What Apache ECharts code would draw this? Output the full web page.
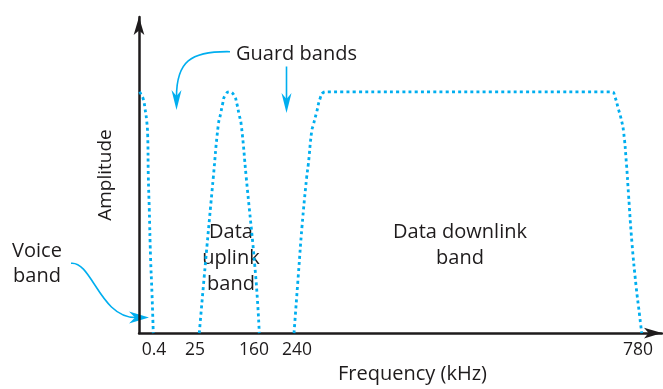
<!DOCTYPE html>
<html><head><meta charset="utf-8">
<script src="https://cdn.jsdelivr.net/npm/echarts@6/dist/echarts.min.js"></script>
<style>html,body{margin:0;padding:0;background:#fff}#chart{width:663px;height:389px}</style>
</head><body><div id="chart"></div>
<script>
// Frequency axis is schematic (not to scale): x values are positions 0–100 along the axis.
const tickPositions = [2.87, 10.71, 21.99, 30.21, 95.41];
const tickLabels = ['0.4', '25', '160', '240', '780'];

// Amplitude (0–1) of each band's spectrum outline
const voiceBand = [[0.1,1.0],[0.38,0.99],[0.82,0.97],[1.15,0.93],[1.47,0.88],[1.66,0.82],[1.78,0.65],[1.97,0.51],[2.2,0.32],[2.49,0.16],[2.73,0]];
const uplinkBand = [[11.53,0],[12.49,0.239],[14.21,0.646],[15.16,0.863],[15.62,0.91],[16.0,0.951],[16.44,0.985],[17.27,1.0],[18.2,0.985],[18.7,0.951],[19.1,0.91],[19.55,0.863],[20.5,0.646],[22.3,0.239],[23.0,0]];
const downlinkBand = [[29.64,0],[30.46,0.239],[31.17,0.442],[32.06,0.646],[32.37,0.699],[33.02,0.837],[33.33,0.863],[33.98,0.917],[34.61,0.971],[35.24,0.997],[35.95,1.0],[90.38,1.0],[91.01,0.978],[91.64,0.93],[92.16,0.89],[92.64,0.837],[93.21,0.699],[93.59,0.577],[94.26,0.373],[95.03,0.198],[95.7,0.076],[96.12,0]];

const BLUE = '#00aeef';
const INK = '#1e1b1c';
const FONT = '"Open Sans", sans-serif';

const chart = echarts.init(document.getElementById('chart'), null, {renderer: 'canvas'});

function bandSeries(name, data) {
  return {
    name, type: 'line', data, showSymbol: false, smooth: 0.5, silent: true,
    lineStyle: {color: BLUE, width: 2.8, type: [3, 3.2], cap: 'butt'}
  };
}

chart.setOption({
  animation: false,
  backgroundColor: '#fff',
  grid: {left: 139, right: 1, top: 17, bottom: 50, containLabel: false},
  xAxis: {
    type: 'value', min: 0, max: 100,
    name: 'Frequency (kHz)', nameLocation: 'middle', nameGap: 27,
    nameTextStyle: {fontFamily: FONT, fontSize: 20, color: INK, padding: [0, 0, 0, 24]},
    axisLine: {show: true, symbol: ['none', 'arrow'], symbolSize: [8, 18], lineStyle: {color: INK, width: 2.5}},
    axisTick: {show: false},
    splitLine: {show: false},
    axisLabel: {
      customValues: tickPositions,
      formatter: v => { const i = tickPositions.findIndex(p => Math.abs(p - v) < 1e-6); return i >= 0 ? tickLabels[i] : ''; },
      fontFamily: FONT, fontSize: 17.5, color: INK, margin: 8
    }
  },
  yAxis: {
    type: 'value', min: 0, max: 1.31,
    name: 'Amplitude', nameLocation: 'middle', nameGap: 24,
    nameTextStyle: {fontFamily: FONT, fontSize: 19, color: INK},
    axisLine: {show: true, symbol: ['none', 'arrow'], symbolSize: [8, 18], lineStyle: {color: INK, width: 2.5}},
    axisTick: {show: false},
    axisLabel: {show: false},
    splitLine: {show: false}
  },
  series: [
    bandSeries('Voice band', voiceBand),
    bandSeries('Data uplink band', uplinkBand),
    bandSeries('Data downlink band', downlinkBand)
  ],
  graphic: [
    {type: 'text', x: 236, y: 54, style: {text: 'Guard bands', font: '20px ' + FONT, fill: INK, align: 'left', verticalAlign: 'middle'}},
    {type: 'text', x: 231, y: 258.3, style: {text: 'Data\nuplink\nband', font: '20px ' + FONT, fill: INK, align: 'center', verticalAlign: 'middle', lineHeight: 26}},
    {type: 'text', x: 460, y: 245, style: {text: 'Data downlink\nband', font: '20px ' + FONT, fill: INK, align: 'center', verticalAlign: 'middle', lineHeight: 26}},
    {type: 'text', x: 37, y: 263.3, style: {text: 'Voice\nband', font: '20px ' + FONT, fill: INK, align: 'center', verticalAlign: 'middle', lineHeight: 25}},
    // Guard band arrow (curved)
    {type: 'bezierCurve', shape: {x1: 230, y1: 51.7, cpx1: 190, cpy1: 51, cpx2: 176.5, cpy2: 62, x2: 176.5, y2: 97}, style: {stroke: BLUE, lineWidth: 1.6, fill: null}},
    {type: 'polygon', shape: {points: [[176.5, 110], [171.5, 90], [176.5, 96], [181.5, 90]]}, style: {fill: BLUE}},
    // Guard band arrow (straight)
    {type: 'line', shape: {x1: 286.5, y1: 66.5, x2: 286.5, y2: 99}, style: {stroke: BLUE, lineWidth: 1.6}},
    {type: 'polygon', shape: {points: [[286.5, 113], [281.5, 93], [286.5, 99], [291.5, 93]]}, style: {fill: BLUE}},
    // Voice band arrow
    {type: 'bezierCurve', shape: {x1: 71, y1: 263.3, cpx1: 92, cpy1: 261, cpx2: 100, cpy2: 318, x2: 136, y2: 317.5}, style: {stroke: BLUE, lineWidth: 1.6, fill: null}},
    {type: 'polygon', shape: {points: [[149, 317.5], [129, 311.5], [135, 317.5], [129, 323.5]]}, style: {fill: BLUE}}
  ]
});
</script>
</body></html>
